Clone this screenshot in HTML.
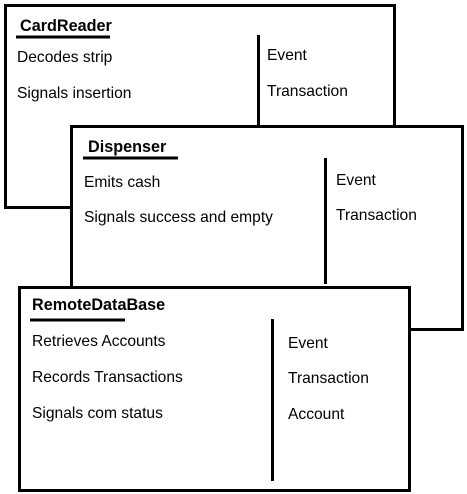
<!DOCTYPE html>
<html><head><style>body{margin:0;background:#fff}svg{display:block}text{font-family:"Liberation Sans",Arial,sans-serif;font-size:15.6px;fill:#000}</style></head>
<body>
<svg width="467" height="494" viewBox="0 0 467 494">
<rect x="5.5" y="5.5" width="389" height="202" fill="#fff" stroke="#000" stroke-width="3"/>
<line x1="16" y1="37" x2="110" y2="37" stroke="#000" stroke-width="3"/>
<line x1="258.5" y1="35" x2="258.5" y2="126" stroke="#000" stroke-width="3"/>
<text x="20" y="31" font-weight="bold" style="font-size:16.2px">CardReader</text>
<text x="17" y="62">Decodes strip</text>
<text x="17" y="98">Signals insertion</text>
<text x="267" y="60">Event</text>
<text x="267" y="96">Transaction</text>

<rect x="71.5" y="126.5" width="391" height="203" fill="#fff" stroke="#000" stroke-width="3"/>
<line x1="83" y1="158" x2="178" y2="158" stroke="#000" stroke-width="3"/>
<line x1="325.5" y1="158" x2="325.5" y2="284" stroke="#000" stroke-width="3"/>
<text x="88" y="152" font-weight="bold" style="font-size:16.2px">Dispenser</text>
<text x="84" y="187">Emits cash</text>
<text x="84" y="222">Signals success and empty</text>
<text x="336" y="185">Event</text>
<text x="336" y="220">Transaction</text>

<rect x="19.5" y="287.5" width="390" height="203" fill="#fff" stroke="#000" stroke-width="3"/>
<line x1="30" y1="320" x2="125" y2="320" stroke="#000" stroke-width="3"/>
<line x1="272.5" y1="319" x2="272.5" y2="481" stroke="#000" stroke-width="3"/>
<text x="32" y="310" font-weight="bold" style="font-size:16.2px">RemoteDataBase</text>
<text x="32" y="346">Retrieves Accounts</text>
<text x="32" y="382">Records Transactions</text>
<text x="32" y="418">Signals com status</text>
<text x="288" y="348">Event</text>
<text x="288" y="383">Transaction</text>
<text x="288" y="419">Account</text>
</svg>
</body></html>
